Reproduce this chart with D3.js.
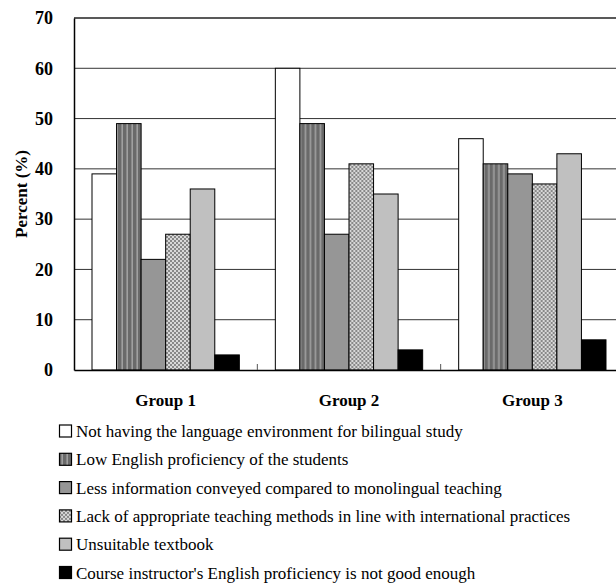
<!DOCTYPE html>
<html>
<head>
<meta charset="utf-8">
<script src="https://cdn.jsdelivr.net/npm/d3@7"></script>
<style>
  body { margin: 0; background: #fff; overflow: hidden; }
  text { font-family: "Liberation Serif", "Times New Roman", serif; }
</style>
</head>
<body>
<div id="chart"></div>
<script>
const groups = ["Group 1", "Group 2", "Group 3"];
const series = [
    "Not having the language environment for bilingual study",
    "Low English proficiency of the students",
    "Less information conveyed compared to monolingual teaching",
    "Lack of appropriate teaching methods in line with international practices",
    "Unsuitable textbook",
    "Course instructor's English proficiency is not good enough"
];
// values per series, one entry per group
const notEnvironment = [39, 60, 46];
const lowStudentEnglish = [49, 49, 41];
const lessInformation = [22, 27, 39];
const lackMethods = [27, 41, 37];
const unsuitableTextbook = [36, 35, 43];
const instructorEnglish = [3, 4, 6];
const yTicks = [0, 10, 20, 30, 40, 50, 60, 70];

const values = [notEnvironment, lowStudentEnglish, lessInformation, lackMethods, unsuitableTextbook, instructorEnglish];
const data = groups.map((g, gi) => ({
    group: g,
    bars: series.map((s, si) => ({ series: s, index: si, value: values[si][gi] }))
}));

const width = 616;
const height = 585;
const margin = { top: 18, left: 74, bottom: 370, right: 624 };
const serif = "'Liberation Serif', 'Times New Roman', serif";

const svg = d3.select("#chart")
    .append("svg")
    .attr("width", width)
    .attr("height", height);

// fill patterns
const defs = svg.append("defs");
const stripes = defs.append("pattern")
    .attr("id", "stripes")
    .attr("patternUnits", "userSpaceOnUse")
    .attr("width", 5).attr("height", 4);
stripes.append("rect").attr("width", 5).attr("height", 4).attr("fill", "#6a6a6a");
stripes.append("rect").attr("x", 2).attr("width", 1).attr("height", 4).attr("fill", "#8a8a8a");
stripes.append("rect").attr("x", 3).attr("width", 1).attr("height", 4).attr("fill", "#a0a0a0");

const checks = defs.append("pattern")
    .attr("id", "checks")
    .attr("patternUnits", "userSpaceOnUse")
    .attr("width", 4).attr("height", 4);
checks.append("rect").attr("width", 4).attr("height", 4).attr("fill", "#d8d8d8");
checks.append("rect").attr("width", 2).attr("height", 2).attr("fill", "#888");
checks.append("rect").attr("x", 2).attr("y", 2).attr("width", 2).attr("height", 2).attr("fill", "#888");

const fills = ["#fff", "url(#stripes)", "#969696", "url(#checks)", "#c0c0c0", "#000"];

const x0 = d3.scaleBand()
    .domain(groups)
    .range([margin.left, margin.right]);

const x1 = d3.scaleBand()
    .domain(d3.range(series.length))
    .range([18, x0.bandwidth() - 18]);

const y = d3.scaleLinear()
    .domain([0, 70])
    .range([margin.bottom, margin.top]);

// gridlines
svg.append("g")
    .selectAll("line")
    .data(yTicks.filter(t => t > 0 && t < 70))
    .enter()
    .append("line")
    .attr("x1", margin.left)
    .attr("x2", margin.right)
    .attr("y1", d => y(d))
    .attr("y2", d => y(d))
    .attr("stroke", "#333")
    .attr("stroke-width", 1);

// top border
svg.append("line")
    .attr("x1", margin.left).attr("x2", margin.right)
    .attr("y1", y(70)).attr("y2", y(70))
    .attr("stroke", "#222").attr("stroke-width", 1.5);

// bars
svg.append("g")
    .selectAll("g")
    .data(data)
    .enter()
    .append("g")
    .attr("transform", d => `translate(${x0(d.group)},0)`)
    .selectAll("rect")
    .data(d => d.bars)
    .enter()
    .append("rect")
    .attr("x", d => x1(d.index))
    .attr("width", x1.bandwidth())
    .attr("y", d => y(d.value))
    .attr("height", d => y(0) - y(d.value))
    .attr("fill", d => fills[d.index])
    .attr("stroke", "#000")
    .attr("stroke-width", 1);

// y axis
const yAxis = svg.append("g")
    .attr("transform", `translate(${margin.left},0)`)
    .call(d3.axisLeft(y).tickValues(yTicks).tickSize(0).tickPadding(21));
yAxis.attr("font-family", serif);
yAxis.select(".domain").attr("stroke", "#000").attr("stroke-width", 1.5);
yAxis.selectAll("text")
    .attr("font-size", 18)
    .attr("font-weight", "bold")
    .attr("fill", "#000");

// x axis
const xAxis = svg.append("g")
    .attr("transform", `translate(0,${y(0)})`)
    .call(d3.axisBottom(x0).tickSize(0).tickPadding(24));
xAxis.attr("font-family", serif);
xAxis.select(".domain").attr("stroke", "#000").attr("stroke-width", 1.5);
xAxis.selectAll("text")
    .attr("font-size", 17)
    .attr("font-weight", "bold")
    .attr("fill", "#000");

// category divider ticks (inside)
svg.append("g")
    .selectAll("line")
    .data(groups.slice(1))
    .enter()
    .append("line")
    .attr("x1", d => x0(d))
    .attr("x2", d => x0(d))
    .attr("y1", y(0))
    .attr("y2", y(0) - 6)
    .attr("stroke", "#555")
    .attr("stroke-width", 1);

// y axis title
svg.append("text")
    .attr("transform", `translate(27,${(y(0) + y(70)) / 2}) rotate(-90)`)
    .attr("text-anchor", "middle")
    .attr("font-family", serif)
    .attr("font-size", 17)
    .attr("font-weight", "bold")
    .text("Percent (%)");

// legend
const legend = svg.append("g")
    .attr("font-family", serif)
    .selectAll("g")
    .data(series)
    .enter()
    .append("g")
    .attr("transform", (d, i) => `translate(59,${431 + i * 28.3})`);

legend.append("rect")
    .attr("x", 0.5)
    .attr("y", -6)
    .attr("width", 12)
    .attr("height", 12)
    .attr("fill", (d, i) => fills[i])
    .attr("stroke", "#000")
    .attr("stroke-width", 1.2);

legend.append("text")
    .attr("x", 17)
    .attr("y", 6)
    .attr("font-size", 17)
    .text(d => d);
</script>
</body>
</html>
